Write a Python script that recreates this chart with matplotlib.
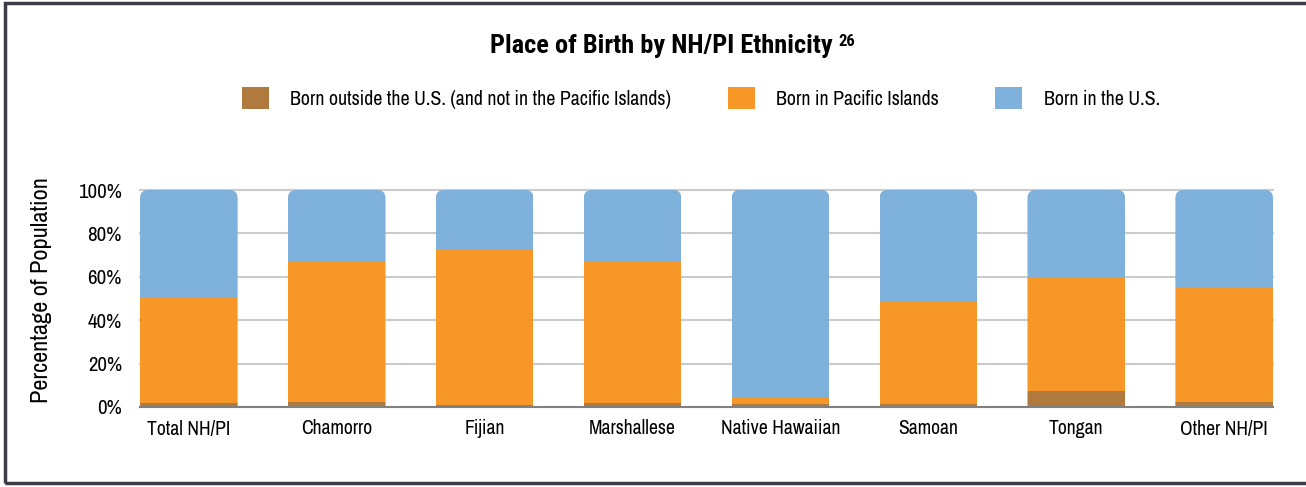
import matplotlib
matplotlib.use("Agg")
import matplotlib.pyplot as plt
from matplotlib.patches import FancyBboxPatch, Rectangle
import numpy as np

# data (percent of population)
categories = ["Total NH/PI", "Chamorro", "Fijian", "Marshallese",
              "Native Hawaiian", "Samoan", "Tongan", "Other NH/PI"]
born_outside = [1.8, 2.3, 0.8, 1.8, 1.2, 1.2, 7.4, 2.3]
born_pacific = [48.8, 65.1, 72.1, 65.1, 3.4, 47.3, 52.1, 52.9]
born_us = [49.4, 32.6, 27.1, 33.1, 95.4, 51.5, 40.5, 44.8]

series_labels = ["Born outside the U.S. (and not in the Pacific Islands)",
                 "Born in Pacific Islands", "Born in the U.S."]
colors = ["#B07A3E", "#F79727", "#7EB1DB"]
y_ticks = [0, 20, 40, 60, 80, 100]

plt.rcParams['font.family'] = ['Nimbus Sans Narrow', 'Archivo Narrow',
                               'Roboto Condensed', 'DejaVu Sans']
bold_family = ['Roboto Condensed', 'DejaVu Sans']

W, H = 1306, 487
fig = plt.figure(figsize=(W / 100, H / 100), dpi=100, facecolor='white')
ax = fig.add_axes([140 / W, 1 - 407 / H, 1133 / W, 217 / H])

x = np.arange(len(categories))
width = 0.66

b1 = ax.bar(x, born_outside, width, color=colors[0], label=series_labels[0], zorder=3)
bottom2 = np.array(born_outside)
b2 = ax.bar(x, born_pacific, width, bottom=bottom2, color=colors[1],
            label=series_labels[1], zorder=3)
bottom3 = bottom2 + np.array(born_pacific)
b3 = ax.bar(x, born_us, width, bottom=bottom3, color=colors[2],
            label=series_labels[2], zorder=3)

# rounded top corners: clip every column to a rounded box
for i, rect in enumerate(b1.patches):
    x0 = rect.get_x()
    w = rect.get_width()
    top = bottom3[i] + born_us[i]
    clip = FancyBboxPatch((x0, -10), w, top + 10,
                          boxstyle="round,pad=0,rounding_size=0.055",
                          mutation_aspect=68, transform=ax.transData,
                          facecolor='none', edgecolor='none')
    for bars in (b1, b2, b3):
        bars.patches[i].set_clip_path(clip)

ax.set_xlim(-width / 2, len(categories) - 1 + width / 2)
ax.set_ylim(0, 100)
ax.set_yticks(y_ticks)
ax.set_yticklabels([f"{t}%" for t in y_ticks], fontsize=15)
ax.set_xticks(x)
ax.set_xticklabels(categories, fontsize=14.2)
ax.tick_params(axis='both', length=0)
ax.tick_params(axis='y', pad=13)
ax.tick_params(axis='x', pad=9)

ax.grid(axis='y', color='#CBCBCB', linewidth=1.5, zorder=0)
for t in ax.get_ygridlines():
    t.set_clip_on(False)
for side in ['top', 'right', 'left']:
    ax.spines[side].set_visible(False)
ax.spines['bottom'].set_color('#808080')
ax.spines['bottom'].set_linewidth(1.5)
ax.spines['bottom'].set_zorder(4)

fig.text(42 / W, 1 - 290 / H, "Percentage of Population", rotation=90,
         ha='center', va='center', fontsize=17.5)

fig.text(661 / W, 1 - 53 / H, "Place of Birth by NH/PI Ethnicity",
         ha='center', va='baseline', fontsize=19, fontweight='bold',
         family=bold_family)
fig.text(838 / W, 1 - 46 / H, "26", ha='left', va='baseline',
         fontsize=12, fontweight='bold', family=bold_family)

leg = fig.legend(handles=[b1, b2, b3], labels=series_labels,
                 loc='center', bbox_to_anchor=(701 / W, 1 - 98 / H),
                 ncol=3, frameon=False, fontsize=14.3,
                 handlelength=1.36, handleheight=1.36, handletextpad=1.06,
                 columnspacing=2.85)

# outer frame
fig.patches.append(Rectangle((5 / W, 4 / H), 1.2, 1 - 7 / H,
                             transform=fig.transFigure, fill=False,
                             edgecolor='#3C3C46', linewidth=2.5))

fig.savefig("out.png", dpi=100, facecolor='white')
